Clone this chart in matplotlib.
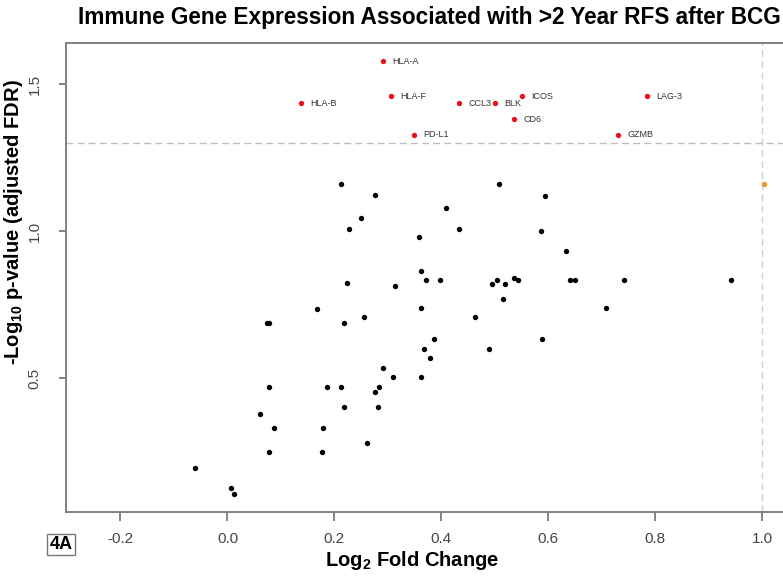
import matplotlib
matplotlib.use("Agg")
import matplotlib.pyplot as plt

plt.rcParams['font.family'] = ['Liberation Sans', 'DejaVu Sans']
plt.rcParams['mathtext.fontset'] = 'custom'
plt.rcParams['mathtext.rm'] = 'Liberation Sans'
plt.rcParams['mathtext.bf'] = 'Liberation Sans:bold'

# significant genes (FDR < 0.05), labelled in red
sig_genes = ["HLA-A", "HLA-F", "HLA-B", "CCL3", "BLK", "ICOS", "CD6", "PD-L1", "GZMB", "LAG-3"]
sig_fc = [0.291, 0.305, 0.137, 0.433, 0.500, 0.551, 0.536, 0.349, 0.730, 0.785]
sig_p = [1.579, 1.460, 1.435, 1.435, 1.435, 1.460, 1.381, 1.328, 1.328, 1.460]

# large fold change but not significant (orange)
big_fc = [1.003]
big_p = [1.160]

# the rest of the genes (black)
other_fc = [0.508, 0.593, 0.409, 0.432, 0.359, 0.586, 0.633, 0.361, 0.371, 0.398,
            0.495, 0.504, 0.519, 0.535, 0.544, 0.641, 0.649, 0.742, 0.942, 0.313,
            0.516, 0.362, 0.707, 0.462, 0.387, 0.588, 0.367, 0.489, 0.379, 0.291,
            0.309, 0.361, 0.212, 0.276, 0.249, 0.228, 0.223, 0.167, 0.073, 0.078,
            0.217, 0.256, 0.078, 0.187, 0.213, 0.284, 0.276, 0.218, 0.282, 0.061,
            0.087, 0.178, 0.261, 0.077, 0.177, -0.060, 0.006, 0.012]
other_p = [1.160, 1.121, 1.080, 1.009, 0.982, 1.001, 0.934, 0.866, 0.834, 0.834,
           0.822, 0.834, 0.822, 0.842, 0.834, 0.834, 0.834, 0.834, 0.834, 0.815,
           0.769, 0.738, 0.738, 0.710, 0.635, 0.635, 0.599, 0.599, 0.570, 0.534,
           0.503, 0.503, 1.160, 1.122, 1.044, 1.009, 0.823, 0.735, 0.687, 0.687,
           0.687, 0.710, 0.470, 0.470, 0.470, 0.470, 0.453, 0.402, 0.402, 0.378,
           0.332, 0.332, 0.281, 0.250, 0.250, 0.194, 0.127, 0.106]

x_ticks = [-0.2, 0.0, 0.2, 0.4, 0.6, 0.8, 1.0]
y_ticks = [0.5, 1.0, 1.5]

fig = plt.figure(figsize=(7.83, 5.77), dpi=100)
# plot region runs off the right edge, like the cropped original
ax = fig.add_axes([0.0839, 0.1132, 0.936, 0.8118])
ax.set_xlim(-0.3024, 1.0677)
ax.set_ylim(0.0463, 1.6395)

# threshold lines
ax.axhline(1.3, color='#bdbdbd', lw=1.0, dashes=(5, 3), zorder=1)
ax.axvline(1.0, color='#cfcfcf', lw=1.0, dashes=(5, 3), zorder=1)

ax.scatter(other_fc, other_p, s=15, color='black', linewidths=0, zorder=3)
ax.scatter(sig_fc, sig_p, s=15, color='#e8131b', linewidths=0, zorder=3)
ax.scatter(big_fc, big_p, s=15, color='#f39322', linewidths=0, zorder=3)

for name, fx, py in zip(sig_genes, sig_fc, sig_p):
    ax.annotate(name, (fx, py), xytext=(6.6, 0), textcoords='offset points',
                ha='left', va='center', fontsize=6.5, color='#333333')

# R style box and ticks
for side in ['left', 'bottom', 'top', 'right']:
    ax.spines[side].set_color('#808080')
    ax.spines[side].set_linewidth(1.4)

ax.set_xticks(x_ticks)
ax.set_xticklabels([f"{t:.1f}" for t in x_ticks])
ax.set_yticks(y_ticks)
ax.set_yticklabels([f"{t:.1f}" for t in y_ticks])
ax.tick_params(axis='x', length=6.5, width=1.2, color='#707070', pad=8,
               labelsize=11, labelcolor='#444444')
ax.tick_params(axis='y', length=5.3, width=1.2, color='#707070', pad=12,
               labelsize=11, labelcolor='#444444')
for lab in ax.get_yticklabels():
    lab.set_rotation(90)
    lab.set_va('center')
    lab.set_ha('right')

# titles and axis labels placed where they sit in the original
fig.text(78 / 783, 1 - 24 / 577,
         "Immune Gene Expression Associated with >2 Year RFS after BCG",
         ha='left', va='baseline', fontsize=16.3, fontweight='bold')
fig.text(325 / 783, 1 - 566 / 577, r"$\mathbf{Log_{2}}$ Fold Change",
         ha='left', va='baseline', fontsize=14.5, fontweight='bold')
fig.text(14 / 783, 1 - 222 / 577, r"-$\mathbf{Log_{10}}$ p-value (adjusted FDR)",
         ha='center', va='center', rotation=90, fontsize=14.5, fontweight='bold')

# panel tag
fig.text(61 / 783, 1 - 544.5 / 577, "4A", ha='center', va='center',
         fontsize=13, fontweight='bold',
         bbox=dict(boxstyle='square,pad=0.12', fc='white', ec='#777777', lw=1.0))

fig.savefig("out.png", dpi=100)
